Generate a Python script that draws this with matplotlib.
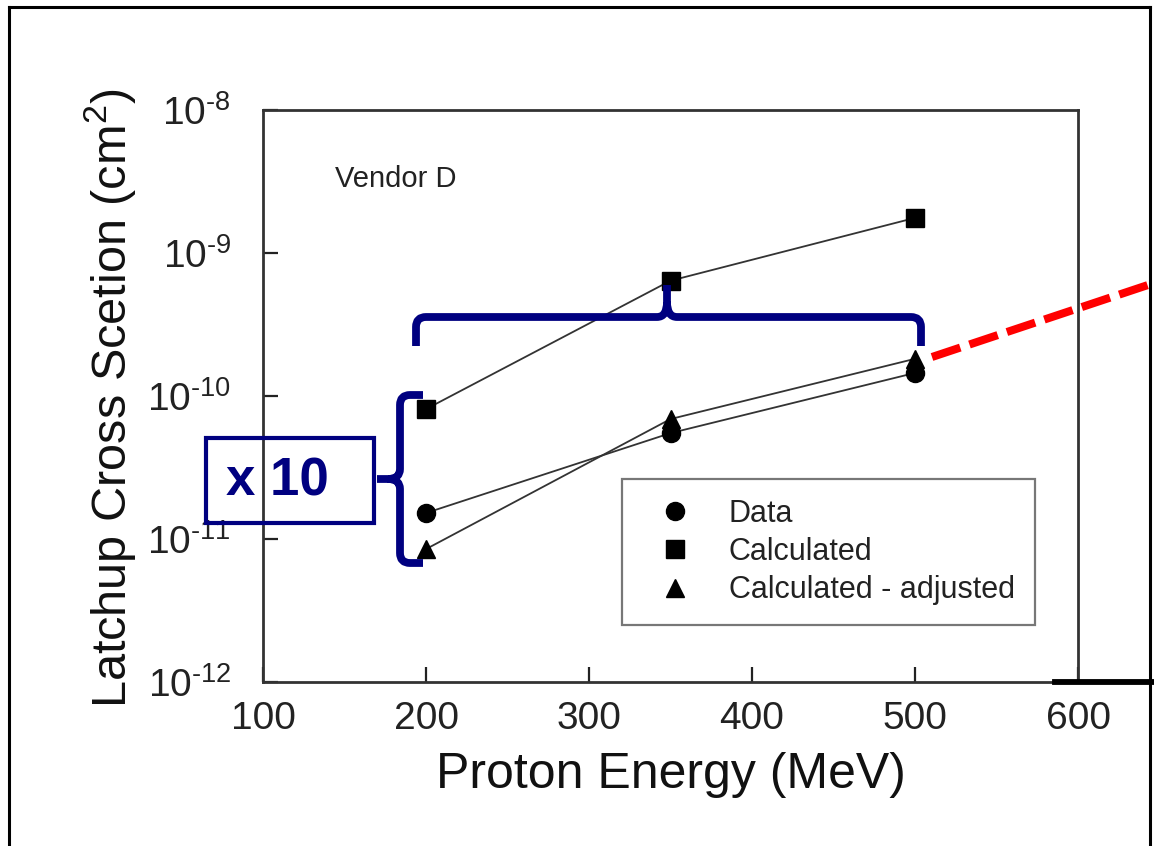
import matplotlib
matplotlib.use("Agg")
import matplotlib.pyplot as plt
from matplotlib.lines import Line2D
from matplotlib.path import Path
from matplotlib.patches import PathPatch, Rectangle
from matplotlib.transforms import Affine2D

plt.rcParams['font.family'] = ['Liberation Sans', 'DejaVu Sans']
plt.rcParams['mathtext.fontset'] = 'custom'
plt.rcParams['mathtext.rm'] = 'Liberation Sans'
plt.rcParams['mathtext.it'] = 'Liberation Sans:italic'
plt.rcParams['mathtext.bf'] = 'Liberation Sans:bold'

# values
energy = [200, 350, 500]
data_xs = [1.52e-11, 5.5e-11, 1.45e-10]
calc_xs = [8.1e-11, 6.4e-10, 1.76e-9]
adj_xs = [8.5e-12, 6.9e-11, 1.82e-10]

xticks = [100, 200, 300, 400, 500, 600]
yticks = [1e-12, 1e-11, 1e-10, 1e-9, 1e-8]
ytick_labels = ['$10^{\\text{-12}}$', '$10^{\\text{-11}}$', '$10^{\\text{-10}}$',
                '$10^{\\text{-9}}$', '$10^{\\text{-8}}$']
legend_labels = ['Data', 'Calculated', 'Calculated - adjusted']

W, H = 1154, 846
fig = plt.figure(figsize=(W / 100, H / 100), dpi=100)
ax = fig.add_axes([263 / W, 1 - 682 / H, 815 / W, 572 / H])

# pixel coordinates (origin top-left) for the overlay annotations
px = Affine2D().scale(1 / 100, -1 / 100).translate(0, H / 100) + fig.dpi_scale_trans

line_kw = dict(color='#333333', lw=1.3, ms=13, zorder=3)
ax.plot(energy, data_xs, marker='o', mfc='black', mec='black', **line_kw)
ax.plot(energy, calc_xs, marker='s', mfc='black', mec='black', **line_kw)
ax.plot(energy, adj_xs, marker='^', mfc='black', mec='black', **line_kw)

ax.set_yscale('log')
ax.set_xlim(100, 600)
ax.set_ylim(1e-12, 1e-8)
ax.set_xticks(xticks)
ax.set_xticklabels([str(t) for t in xticks])
ax.set_yticks(yticks)
ax.set_yticklabels(ytick_labels)
ax.minorticks_off()
ax.tick_params(direction='in', length=11, width=1.6, labelsize=28, colors='#222222')
ax.tick_params(axis='x', pad=14)
ax.tick_params(axis='y', pad=23)
for s in ax.spines.values():
    s.set_linewidth(2)
    s.set_color('#333333')

ax.set_xlabel('Proton Energy (MeV)', fontsize=36, color='#111111', va='center')
ax.xaxis.set_label_coords(0.5006, -0.1626)
ax.set_ylabel('Latchup Cross Scetion (cm$^2$)', fontsize=35, color='#111111', va='center')
ax.yaxis.set_label_coords(-0.1877, 0.4965)

ax.text(0.0883, 0.8794, 'Vendor D', transform=ax.transAxes, fontsize=21,
        color='#222222', va='center', ha='left')

handles = [Line2D([], [], ls='none', marker=m, color='black', ms=13) for m in ['o', 's', '^']]
leg = ax.legend(handles, legend_labels, loc='upper left',
                bbox_to_anchor=(622 / W, 1 - 479 / H), bbox_transform=fig.transFigure,
                borderaxespad=0, fontsize=22, frameon=True, fancybox=False,
                borderpad=0.65, handlelength=2.16, handletextpad=0.69, labelspacing=0.27)
leg.get_frame().set_edgecolor('#555555')
leg.get_frame().set_linewidth(1.6)
for t in leg.get_texts():
    t.set_color('#222222')

# outer frame
for xs, ys in [([9, 9], [7, 860]), ([9, 1150], [7, 7]), ([1150, 1150], [7, 860])]:
    fig.add_artist(Line2D(xs, ys, color='black', lw=2.2, transform=px))
fig.add_artist(Line2D([1055, 1160], [682, 682], color='black', lw=4.2, transform=px))

# red dashed extension
fig.add_artist(Line2D([932, 1160], [357, 281], color='red', lw=5.8,
                      dashes=(3.7, 1.2), transform=px))

navy = '#000080'
M, L, C = Path.MOVETO, Path.LINETO, Path.CURVE3
hbrace = Path([(416, 346), (416, 327), (416, 317), (426, 317), (657, 317),
               (667, 317), (667, 302), (667, 285),
               (667, 302), (667, 317), (677, 317), (911, 317),
               (921, 317), (921, 327), (921, 346)],
              [M, L, C, C, L, C, C, L, M, C, C, L, C, C, L])
vbrace = Path([(423, 395), (410, 395), (400, 395), (400, 405), (400, 469),
               (400, 479), (388, 479), (377, 479),
               (388, 479), (400, 479), (400, 489), (400, 553),
               (400, 563), (410, 563), (423, 563)],
              [M, L, C, C, L, C, C, L, M, C, C, L, C, C, L])
for p in (hbrace, vbrace):
    fig.add_artist(PathPatch(p, fc='none', ec=navy, lw=5.6, capstyle='butt',
                             joinstyle='round', transform=px))

fig.add_artist(Rectangle((206, 438), 168, 85, fc='none', ec=navy, lw=3, transform=px))
fig.text(277, 481, 'x 10', transform=px, fontsize=38, fontweight='bold',
         color=navy, ha='center', va='center')

fig.savefig('out.png', dpi=100)
